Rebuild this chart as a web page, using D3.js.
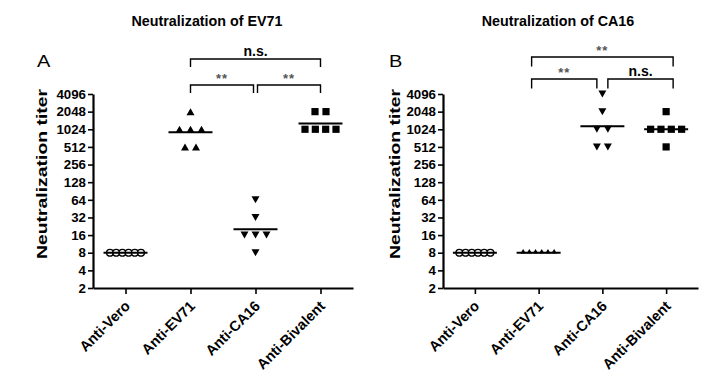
<!DOCTYPE html>
<html><head><meta charset="utf-8">
<script src="https://cdn.jsdelivr.net/npm/d3@7"></script>
<style>
html,body{margin:0;padding:0;background:#fff;}
svg{display:block;font-family:"Liberation Sans",Arial,sans-serif;}
</style></head>
<body><svg id="chart" width="706" height="382"></svg>
<script>
// ---- data ----
const categories = ["Anti-Vero", "Anti-EV71", "Anti-CA16", "Anti-Bivalent"];
const yTickValues = [2, 4, 8, 16, 32, 64, 128, 256, 512, 1024, 2048, 4096];
const panelTitles = ["Neutralization of EV71", "Neutralization of CA16"];
const panelLetters = ["A", "B"];
const yTitle = "Neutralization titer";

// Panel A: neutralization of EV71
const evVero = [8, 8, 8, 8, 8, 8];
const evEV71 = [2048, 1024, 1024, 1024, 512, 512];
const evCA16 = [64, 32, 16, 16, 16, 8];
const evBiv  = [2048, 2048, 1024, 1024, 1024, 1024];
// Panel B: neutralization of CA16
const caVero = [8, 8, 8, 8, 8, 8];
const caEV71 = [8, 8, 8, 8, 8, 8];
const caCA16 = [4096, 2048, 1024, 1024, 512, 512];
const caBiv  = [2048, 1024, 1024, 1024, 1024, 512];

const sigA = [
  {from: 1, to: 3, level: 0, label: "n.s."},
  {from: 1, to: 2, level: 1, label: "**"},
  {from: 2, to: 3, level: 1, label: "**"}
];
const sigB = [
  {from: 1, to: 3, level: 0, label: "**"},
  {from: 1, to: 2, level: 1, label: "**"},
  {from: 2, to: 3, level: 1, label: "n.s."}
];

// ---- layout ----
const panels = [
  {series: [evVero, evEV71, evCA16, evBiv], sig: sigA, axisX: 93, xEnd: 353,
   titleX: 207, letterX: 37, yTitleX: 47, levelY: [59, 85], leg: 8, outset: 0, gap: 2},
  {series: [caVero, caEV71, caCA16, caBiv], sig: sigB, axisX: 443, xEnd: 698,
   titleX: 558, letterX: 389, yTitleX: 400, levelY: [57, 79], leg: 9.5, outset: 7, gap: 5.5}
];
const yTop = 94, yBottom = 288;
const svg = d3.select("#chart");

function geoMean(arr) {
  return Math.pow(2, d3.mean(arr, v => Math.log2(v)));
}

panels.forEach((p, pi) => {
  const g = svg.append("g");
  const y = d3.scaleLog().base(2).domain([2, 4096]).range([yBottom, yTop]);
  const x = d3.scalePoint().domain(categories).range([p.axisX, p.xEnd]).padding(0.5);

  // title
  g.append("text").attr("x", p.titleX).attr("y", 26).attr("text-anchor", "middle")
    .attr("font-size", 14.3).attr("font-weight", "bold").text(panelTitles[pi]);
  // letter
  g.append("text").attr("x", p.letterX).attr("y", 67)
    .attr("font-size", 16).attr("font-weight", "normal").text(panelLetters[pi])
    .attr("transform", `translate(${p.letterX},67) scale(1.25,1) translate(${-p.letterX},-67)`);

  // y axis
  const ya = g.append("g").attr("transform", `translate(${p.axisX},0)`)
    .call(d3.axisLeft(y).tickValues(yTickValues).tickFormat(d3.format("d"))
      .tickSize(5).tickSizeOuter(0).tickPadding(2));
  ya.select(".domain").attr("stroke-width", 2.2);
  ya.selectAll(".tick line").attr("stroke-width", 1.6);
  ya.selectAll(".tick text").attr("font-size", 13.3).attr("font-weight", "bold")
    .attr("font-family", "Liberation Sans, Arial, sans-serif").attr("fill", "#000");

  // x axis
  const xa = g.append("g").attr("transform", `translate(0,${yBottom})`)
    .call(d3.axisBottom(x).tickSize(6).tickSizeOuter(0).tickPadding(0));
  xa.select(".domain").attr("stroke-width", 2.2);
  xa.selectAll(".tick line").attr("stroke-width", 1.6);
  xa.selectAll(".tick text").attr("font-size", 14.5).attr("font-weight", "bold")
    .attr("font-family", "Liberation Sans, Arial, sans-serif").attr("fill", "#000")
    .attr("text-anchor", "end").attr("dy", null).attr("y", null)
    .attr("transform", "translate(5,19) rotate(-45)");

  // y title
  g.append("text").attr("transform", `translate(${p.yTitleX},174) rotate(-90)`)
    .attr("text-anchor", "middle").attr("font-size", 15).attr("font-weight", "bold")
    .attr("textLength", 170).attr("lengthAdjust", "spacingAndGlyphs").text(yTitle);

  // data points
  p.series.forEach((vals, ci) => {
    const cx = x(categories[ci]);
    const counts = d3.rollup(vals, v => v.length, v => v);
    const seen = new Map();
    const small = (pi === 1 && ci === 1);
    vals.forEach(v => {
      const n = counts.get(v);
      const k = seen.get(v) || 0; seen.set(v, k + 1);
      const sp = Math.min(11, n > 1 ? 31 / (n - 1) : 0);
      const px = cx + (k - (n - 1) / 2) * sp;
      const py = y(v);
      if (ci === 0) {
        g.append("circle").attr("cx", px).attr("cy", py).attr("r", 3.4)
          .attr("fill", "#fff").attr("stroke", "#000").attr("stroke-width", 1.4);
      } else if (ci === 1) {
        const w = small ? 5.5 : 8, h = small ? 4.5 : 7;
        const oy = small ? -1.5 : 0;
        g.append("path").attr("d",
          `M${px - w / 2},${py + oy + h / 2}L${px + w / 2},${py + oy + h / 2}L${px},${py + oy - h / 2}Z`)
          .attr("fill", "#000");
      } else if (ci === 2) {
        const w = 8, h = 7;
        g.append("path").attr("d",
          `M${px - w / 2},${py - h / 2}L${px + w / 2},${py - h / 2}L${px},${py + h / 2}Z`)
          .attr("fill", "#000");
      } else {
        g.append("rect").attr("x", px - 3.6).attr("y", py - 3.6).attr("width", 7.2).attr("height", 7.2)
          .attr("fill", "#000");
      }
    });
    // geometric mean line
    const gm = y(geoMean(vals));
    g.append("line").attr("x1", cx - 22).attr("x2", cx + 22).attr("y1", gm).attr("y2", gm)
      .attr("stroke", "#000").attr("stroke-width", 2);
  });

  // significance brackets
  p.sig.forEach(s => {
    const full = (s.to - s.from) > 1;
    let x1 = x(categories[s.from]), x2 = x(categories[s.to]);
    if (full) { x1 -= p.outset; x2 += p.outset; }
    else if (s.from === 1) { x1 -= p.outset; x2 -= p.gap; }
    else { x1 += p.gap; x2 += p.outset; }
    const yy = p.levelY[s.level];
    g.append("path").attr("d", `M${x1},${yy + p.leg}V${yy}H${x2}V${yy + p.leg}`)
      .attr("fill", "none").attr("stroke", "#000").attr("stroke-width", 1.4);
    const isStars = s.label === "**";
    g.append("text").attr("x", (x1 + x2) / 2).attr("y", isStars ? yy - 2 : yy - 3)
      .attr("text-anchor", "middle")
      .attr("font-size", isStars ? 13 : 14).attr("font-weight", isStars ? "bold" : "bold")
      .attr("fill", isStars ? "#555" : "#000")
      .attr("letter-spacing", isStars ? 1 : 0)
      .text(s.label);
  });
});
</script>
</body></html>
